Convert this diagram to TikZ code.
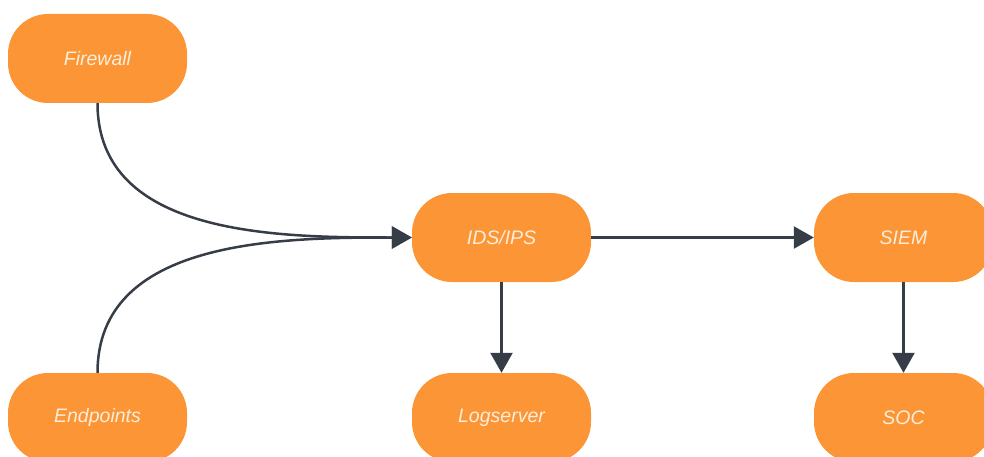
\documentclass[tikz,border=0pt]{standalone}
\usepackage{fontspec}
\setmainfont{Liberation Sans}
\usetikzlibrary{arrows.meta}
\definecolor{boxorange}{HTML}{FB9535}
\definecolor{boxtext}{HTML}{FDEEDC}
\definecolor{linkgray}{HTML}{363D47}
\begin{document}
\begin{tikzpicture}[x=1pt, y=1pt,
  stage/.style={fill=boxorange, rounded corners=40pt, minimum width=179pt, minimum height=89pt,
    inner sep=0pt, text=boxtext, font=\fontsize{19.5}{23}\selectfont\itshape},
  link/.style={draw=linkgray, line width=2.5pt, -{Triangle[length=20pt,width=22pt]}}]
\useasboundingbox (0,0) rectangle (984,456);
\node[stage] (fw) at (97.5,397.5) {Firewall};
\node[stage] (ep) at (97.5,38.5) {Endpoints};
\node[stage] (ids) at (501.5,218.5) {IDS/IPS};
\node[stage] (siem) at (903.5,218.5) {SIEM};
\node[stage] (log) at (501.5,38.5) {Logserver};
\node[stage] (soc) at (903.5,38.5) {SOC};
\draw[link] (fw.south) to[out=-90, in=180] (ids.west);
\draw[link] (ep.north) to[out=90, in=180] (ids.west);
\draw[link] (ids.east) -- (siem.west);
\draw[link] (ids.south) -- (log.north);
\draw[link] (siem.south) -- (soc.north);
\end{tikzpicture}
\end{document}
